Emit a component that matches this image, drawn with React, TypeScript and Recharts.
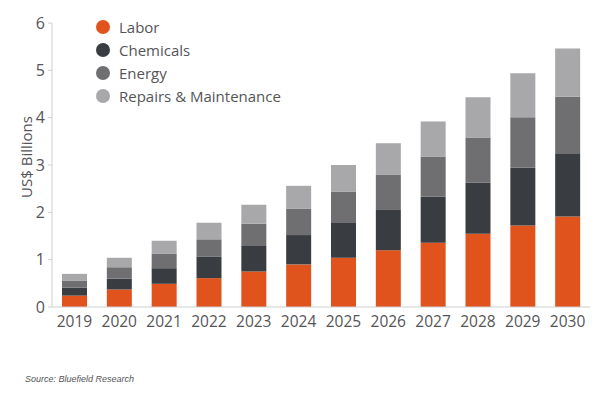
import React from "react";
import { BarChart, Bar, XAxis, YAxis, Legend } from "recharts";

const years = ["2019", "2020", "2021", "2022", "2023", "2024", "2025", "2026", "2027", "2028", "2029", "2030"];
const labor = [0.24, 0.37, 0.49, 0.61, 0.75, 0.9, 1.04, 1.2, 1.36, 1.55, 1.72, 1.91];
const chemicals = [0.17, 0.23, 0.33, 0.45, 0.54, 0.62, 0.75, 0.85, 0.97, 1.08, 1.22, 1.34];
const energy = [0.15, 0.24, 0.31, 0.37, 0.47, 0.56, 0.65, 0.75, 0.85, 0.95, 1.07, 1.19];
const repairs = [0.14, 0.2, 0.27, 0.35, 0.4, 0.48, 0.56, 0.66, 0.74, 0.85, 0.93, 1.02];
const yTicks = [0, 1, 2, 3, 4, 5, 6];

const series = [
  { key: "labor", name: "Labor", color: "#E0531C" },
  { key: "chemicals", name: "Chemicals", color: "#393D42" },
  { key: "energy", name: "Energy", color: "#6F6F72" },
  { key: "repairs", name: "Repairs & Maintenance", color: "#A8A8AB" },
];

const data = years.map((y, i) => ({
  year: y,
  labor: labor[i],
  chemicals: chemicals[i],
  energy: energy[i],
  repairs: repairs[i],
}));

const FONT = "'Open Sans', sans-serif";
const TEXT = "#555558";

const renderLegend = () => (
  <div style={{ fontFamily: FONT }}>
    {series.map((s) => (
      <div key={s.key} style={{ display: "flex", alignItems: "center", height: 23 }}>
        <span
          style={{
            display: "inline-block",
            width: 14,
            height: 14,
            borderRadius: 7,
            background: s.color,
            marginRight: 9,
          }}
        />
        <span style={{ fontSize: 15, color: TEXT }}>{s.name}</span>
      </div>
    ))}
  </div>
);

const renderYLabel = (props: any) => {
  const vb = props.viewBox || { x: 0, y: 23, width: 52, height: 284 };
  const cx = 26;
  const cy = vb.y + vb.height / 2 - 8;
  return (
    <text
      x={cx}
      y={cy}
      transform={`rotate(-90, ${cx}, ${cy})`}
      textAnchor="middle"
      dominantBaseline="central"
      fill={TEXT}
      fontSize={15}
      fontFamily={FONT}
    >
      US$ Billions
    </text>
  );
};

export default function App() {
  return (
    <div style={{ position: "absolute", left: 0, top: 0, width: 602, height: 396, background: "#fff" }}>
      <BarChart
        width={602}
        height={396}
        data={data}
        margin={{ top: 23, right: 12, bottom: 59, left: 0 }}
        barSize={25}
      >
        <XAxis
          dataKey="year"
          tickLine={false}
          tickSize={0}
          tickMargin={9}
          height={30}
          axisLine={{ stroke: "#CFCFD2" }}
          tick={{ fill: TEXT, fontSize: 15.5, fontFamily: FONT }}
          interval={0}
        />
        <YAxis
          width={52}
          domain={[0, 6]}
          ticks={yTicks}
          interval={0}
          tickSize={4}
          tickMargin={3}
          axisLine={{ stroke: "#CFCFD2" }}
          tickLine={{ stroke: "#CFCFD2" }}
          tick={{ fill: TEXT, fontSize: 16, fontFamily: FONT }}
          label={{ value: "US$ Billions", position: "insideLeft", content: renderYLabel }}
        />
        <Legend
          layout="vertical"
          verticalAlign="middle"
          align="center"
          content={renderLegend}
          wrapperStyle={{ left: 96, top: 15, width: 260 }}
        />
        {series.map((s) => (
          <Bar key={s.key} dataKey={s.key} name={s.name} stackId="a" fill={s.color} isAnimationActive={false} />
        ))}
      </BarChart>
      <div
        style={{
          position: "absolute",
          left: 25,
          top: 374,
          fontFamily: "'Liberation Sans', Arial, sans-serif",
          fontStyle: "italic",
          fontSize: 9,
          color: TEXT,
        }}
      >
        Source: Bluefield Research
      </div>
    </div>
  );
}
